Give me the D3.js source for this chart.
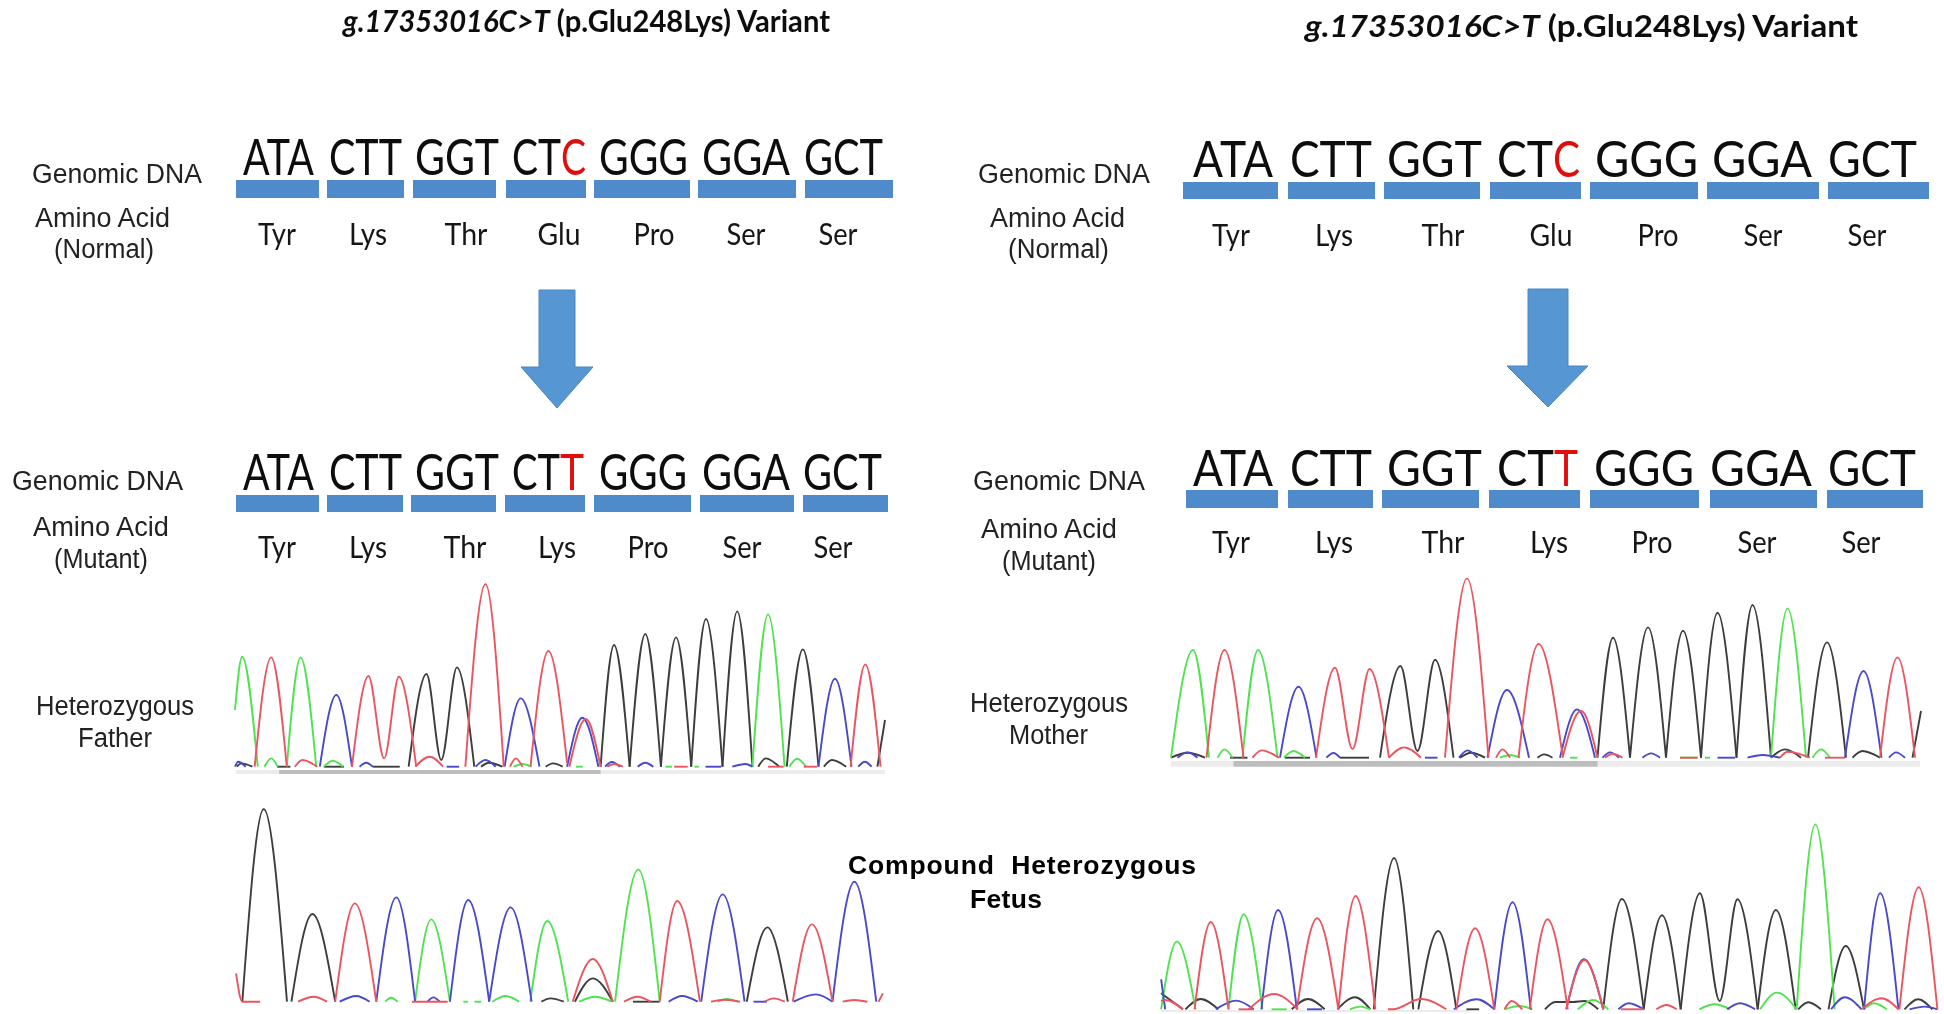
<!DOCTYPE html>
<html>

<head>
  <meta charset="utf-8">
  <script src="https://d3js.org/d3.v7.min.js"></script>
  <style>
    body { margin: 0; background: #fff; }
    svg { display: block; }
  </style>
</head>

<body>
  <div id="my_dataviz"></div>
  <script>
    // sequence text
    var codonsNormal = ["ATA", "CTT", "GGT", "CTC", "GGG", "GGA", "GCT"];
    var codonsMutant = ["ATA", "CTT", "GGT", "CTT", "GGG", "GGA", "GCT"];
    var aminoNormal = ["Tyr", "Lys", "Thr", "Glu", "Pro", "Ser", "Ser"];
    var aminoMutant = ["Tyr", "Lys", "Thr", "Lys", "Pro", "Ser", "Ser"];
    var changedCodon = 3;

    var fatherG = [[56,170,72,330,107,0],[122,0,137,25,152,0],[172,0,203,328,238,0],[255,0,275,18,298,0],[680,0,700,8,720,0],[820,0,835,0],[1020,0,1035,0],[1085,0,1095,0],[1215,0,1250,457,1287,0],[1298,0,1315,24,1335,0]];
    var fatherR = [[100,0,137,328,172,0],[190,0,207,20,240,0],[318,0,355,272,390,25,423,270,462,0],[460,0,492,30,522,0],[572,0,617,548,658,0],[672,0,685,25,700,0],[718,0,758,347,800,10],[805,0,842,143,875,0],[890,0,905,8,925,0],[1040,0,1070,0],[1250,0,1285,0],[1330,0,1360,0],[1435,0,1468,307,1502,0]];
    var fatherA = [[56,0,63,15,80,0],[246,0,283,215,318,0],[335,0,350,12,365,0],[530,0,558,0],[595,0,617,20,640,0],[660,0,696,205,738,0],[800,0,834,147,870,0],[885,0,900,14,918,0],[958,0,975,12,993,0],[1110,0,1145,0],[1170,0,1200,8,1215,0],[1363,0,1400,264,1437,0],[1452,0,1467,15,1482,0]];
    var fatherT = [[60,0,70,10,95,0],[150,0,180,0],[255,0,300,0],[365,0,425,0],[445,0,485,278,518,20,553,298,592,0],[607,0,625,12,655,0],[752,0,768,10,790,0],[875,0,905,365,940,0],[940,0,975,398,1010,0],[1010,0,1044,388,1078,0],[1078,0,1111,443,1148,0],[1148,0,1181,466,1215,0],[1228,0,1245,25,1275,0],[1292,0,1328,352,1363,0],[1375,0,1393,20,1425,0],[1495,0,1512,140]];

    var motherG = [[22,0,66,323,98,0],[115,0,129,25,145,0],[165,0,196,323,235,0],[248,0,267,20,290,0],[680,0,700,8,720,0],[820,0,835,0],[1040,0,1075,0],[1090,0,1100,0],[1222,0,1255,448,1292,0],[1305,0,1322,25,1340,0]];
    var motherR = [[93,0,129,323,167,0],[185,0,203,22,238,0],[312,0,350,270,385,26,419,266,458,0],[458,0,488,31,522,0],[570,0,614,538,657,0],[672,0,685,25,700,0],[717,0,757,341,805,8],[805,0,842,141,875,0],[890,0,905,12,925,0],[1040,0,1075,0],[1240,0,1255,18,1300,0],[1330,0,1370,0],[1440,0,1475,301,1510,0]];
    var motherA = [[35,0,55,16,75,0],[240,0,277,213,313,0],[333,0,347,14,360,0],[530,0,555,0],[598,0,615,22,635,0],[655,0,694,203,738,0],[800,0,834,145,870,0],[885,0,900,16,918,0],[965,0,982,13,1000,0],[1115,0,1150,0],[1175,0,1205,8,1240,0],[1370,0,1407,260,1443,0],[1458,0,1472,16,1490,0]];
    var motherT = [[22,0,55,15,90,0],[140,0,175,0],[250,0,300,0],[360,0,418,0],[440,0,481,275,515,20,550,294,587,0],[600,0,622,15,650,0],[755,0,768,10,785,0],[875,0,906,360,940,0],[940,0,976,391,1012,0],[1012,0,1046,381,1082,0],[1082,0,1115,435,1153,0],[1153,0,1185,458,1222,0],[1222,0,1250,25,1282,0],[1296,0,1334,346,1372,0],[1385,0,1405,20,1440,0],[1505,0,1522,140]];

    var fetusLeftG = [[370,0,383,12,398,0],[437,0,473,247,515,0],[545,0,555,0],[570,0,585,0],[610,0,640,17,670,0],[695,0,733,242,780,0],[805,0,840,15,878,0],[885,0,937,397,985,0],[1115,0,1135,8,1160,0]];
    var fetusLeftR = [[36,85,50,0,90,0],[175,0,210,15,240,0],[258,0,302,295,350,0],[430,0,510,0],[790,0,835,128,880,0],[905,0,935,15,965,0],[985,0,1024,302,1075,0],[1100,0,1130,6,1165,0],[1220,0,1240,10,1265,0],[1283,0,1326,232,1372,0],[1395,0,1420,5,1450,0],[1475,0,1485,25]];
    var fetusLeftA = [[268,0,305,17,335,0],[350,0,395,313,437,0],[465,0,478,13,492,0],[515,0,556,305,603,0],[603,0,651,283,698,0],[1005,0,1035,17,1070,0],[1078,0,1126,322,1175,0],[1195,0,1225,0],[1285,0,1335,22,1372,0],[1372,0,1421,360,1470,0]];
    var fetusLeftT = [[50,0,98,578,150,0],[160,0,207,263,258,0],[720,0,740,10,770,0],[795,0,835,70,880,0],[925,0,985,0],[1180,0,1226,223,1272,0]];

    var fetusRightG = [[22,0,53,203,90,0],[155,0,185,285,222,0],[240,0,270,0],[395,0,415,8,435,0],[700,0,730,10,755,0],[845,0,875,28,905,0],[1085,0,1115,15,1145,0],[1205,0,1238,50,1277,0],[1277,0,1314,555,1352,0],[1410,0,1430,18,1455,0]];
    var fetusRightR = [[22,25,30,28,65,0],[88,0,120,262,155,0],[175,0,205,0],[195,0,245,46,292,0],[290,0,330,273,372,0],[372,0,406,340,445,0],[470,0,480,0,535,31,585,0],[605,0,642,243,680,0],[700,0,714,25,735,0],[750,0,785,270,825,0],[822,0,858,148,895,0],[930,0,975,0],[1000,0,1020,13,1040,0],[1405,0,1445,33,1478,0],[1480,0,1518,366,1555,0]];
    var fetusRightA = [[22,90,30,0],[130,0,170,26,205,0],[220,0,253,298,290,0],[310,0,340,0],[600,0,645,30,680,0],[680,0,716,321,752,0],[822,0,857,150,895,0],[925,0,945,18,975,0],[1140,0,1165,18,1195,0],[1345,0,1372,36,1405,0],[1410,0,1442,348,1478,0],[1500,0,1530,8,1555,0]];
    var fetusRightT = [[22,48,65,0],[70,0,100,31,135,0],[280,0,312,31,345,0],[370,0,405,36,435,0],[442,0,482,454,520,0],[530,0,569,235,605,0],[625,0,650,0],[780,0,800,22,835,22,858,25,885,0],[895,0,932,331,975,0],[975,0,1011,282,1048,0],[1048,0,1086,348,1125,25,1160,330,1200,0],[1200,0,1236,298,1275,0],[1280,0,1300,21,1325,0],[1340,0,1374,190,1410,0],[1490,0,1517,30,1545,0]];

    var channelColors = { T: "#3d3d3d", G: "#4fe34f", A: "#4848cc", R: "#ea5560" };
    var aminoWidths = { Tyr: 38, Lys: 38, Thr: 43, Glu: 43, Pro: 41, Ser: 39 };

    // page layout of the four traces
    var panels = [
      { G: fatherG, R: fatherR, A: fatherA, T: fatherT, x: [210, 910], y: [766.7, 570], top: 590, light: [58, 1512, 600, 612], dark: [155, 875] },
      { G: motherG, R: motherR, A: motherA, T: motherT, x: [1160, 1944], y: [757.7, 565], top: 578, light: [22, 1520, 588, 605], dark: [147, 875] },
      { G: fetusLeftG, R: fetusLeftR, A: fetusLeftA, T: fetusLeftT, x: [220, 920], y: [1001.7, 790], top: 635 },
      { G: fetusRightG, R: fetusRightR, A: fetusRightA, T: fetusRightT, x: [1150, 1944], y: [1009.3, 800], top: 628, light: [22, 630, 630, 636] }
    ];

    // page layout of the codon rows; split is where the red base starts
    var rows = [
      { codons: codonsNormal, amino: aminoNormal, base: 175, barY: [180, 198], aaY: 245, split: 561,
        text: [[243, 314], [329, 402], [415, 499], [512, 586], [599, 688], [702, 790], [804, 883]],
        bars: [[236, 319], [327, 404], [413, 496], [506, 586], [594, 690], [698, 796], [805, 893]],
        aaX: [277, 368, 466, 559, 654, 746, 838] },
      { codons: codonsNormal, amino: aminoNormal, base: 177, barY: [182, 199], aaY: 246, split: 1553,
        text: [[1193, 1273], [1290, 1372], [1387, 1482], [1497, 1580], [1595, 1698], [1712, 1812], [1828, 1917]],
        bars: [[1183, 1278], [1288, 1375], [1384, 1480], [1490, 1581], [1590, 1698], [1707, 1819], [1828, 1929]],
        aaX: [1231, 1334, 1443, 1551, 1658, 1763, 1867] },
      { codons: codonsMutant, amino: aminoMutant, base: 490, barY: [495, 512], aaY: 558, split: 560,
        text: [[243, 314], [329, 402], [415, 499], [512, 584], [599, 687], [702, 790], [803, 882]],
        bars: [[236, 319], [327, 403], [411, 496], [505, 585], [594, 691], [700, 794], [803, 888]],
        aaX: [277, 368, 465, 557, 648, 742, 833] },
      { codons: codonsMutant, amino: aminoMutant, base: 486, barY: [490, 508], aaY: 553, split: 1554,
        text: [[1193, 1273], [1290, 1372], [1387, 1482], [1497, 1578], [1594, 1694], [1710, 1812], [1828, 1916]],
        bars: [[1186, 1278], [1288, 1373], [1382, 1479], [1489, 1580], [1590, 1699], [1710, 1817], [1827, 1923]],
        aaX: [1231, 1334, 1443, 1549, 1652, 1757, 1861] }
    ];

    var sideLabels = [
      ["Genomic DNA", 32, 202, 183], ["Amino Acid", 35, 170, 227], ["(Normal)", 54, 154, 258],
      ["Genomic DNA", 978, 1150, 183], ["Amino Acid", 990, 1125, 227], ["(Normal)", 1008, 1109, 258],
      ["Genomic DNA", 12, 183, 490], ["Amino Acid", 33, 169, 536], ["(Mutant)", 54, 148, 568],
      ["Genomic DNA", 973, 1145, 490], ["Amino Acid", 981, 1117, 538], ["(Mutant)", 1002, 1096, 570],
      ["Heterozygous", 36, 194, 715], ["Father", 78, 152, 747],
      ["Heterozygous", 970, 1128, 712], ["Mother", 1009, 1088, 744]
    ];

    var titles = [[343, 830, 32], [1305, 1858, 37]];
    var arrows = [[539, 575, 521, 593, 557, 290, 367, 408], [1528, 1568, 1507, 1588, 1548, 289, 366, 407]];

    var svg = d3.select("#my_dataviz")
      .append("svg")
      .attr("width", 1944)
      .attr("height", 1014);

    var soft = svg.append("defs").append("filter").attr("id", "soft")
      .attr("x", "-5%").attr("y", "-5%").attr("width", "110%").attr("height", "110%");
    soft.append("feGaussianBlur").attr("stdDeviation", 0.6);

    var chart = svg.append("g").attr("filter", "url(#soft)");

    // Titles
    titles.forEach(function (t) {
      var title = chart.append("text")
        .attr("x", t[0]).attr("y", t[2])
        .attr("textLength", t[1] - t[0]).attr("lengthAdjust", "spacingAndGlyphs")
        .style("font", "700 31px Lato").style("fill", "#111");
      title.append("tspan").style("font-style", "italic").text("g.17353016C>T");
      title.append("tspan").text(" (p.Glu248Lys) Variant");
    });

    // one stretch of codon text squeezed between two page positions
    function fitted(x0, x1, y, txt, color) {
      var t = chart.append("text")
        .style("font", "400 50px Lato")
        .style("fill", color)
        .text(txt);
      var natural = t.node().getComputedTextLength();
      t.attr("transform", "translate(" + x0 + "," + y + ")scale(" + (x1 - x0) / natural + ",1)");
    }

    // Codon rows
    rows.forEach(function (row) {
      chart.append("g").selectAll("rect")
        .data(row.bars)
        .enter()
        .append("rect")
        .attr("x", function (d) { return d[0]; })
        .attr("y", row.barY[0])
        .attr("width", function (d) { return d[1] - d[0]; })
        .attr("height", row.barY[1] - row.barY[0])
        .style("fill", "#4f8bcb");

      row.codons.forEach(function (codon, i) {
        var span = row.text[i];
        if (i === changedCodon) {
          fitted(span[0], row.split, row.base, codon.slice(0, 2), "#0a0a0a");
          fitted(row.split, span[1], row.base, codon.slice(2), "#e01010");
        } else {
          fitted(span[0], span[1], row.base, codon, "#0a0a0a");
        }
      });

      chart.append("g").selectAll("text")
        .data(row.amino)
        .enter()
        .append("text")
        .attr("x", function (d, i) { return row.aaX[i]; })
        .attr("y", row.aaY)
        .attr("text-anchor", "middle")
        .attr("textLength", function (d) { return aminoWidths[d]; })
        .attr("lengthAdjust", "spacingAndGlyphs")
        .style("font", "400 31px Lato")
        .style("fill", "#151515")
        .text(function (d) { return d; });
    });

    // Arrows
    chart.append("g").selectAll("polygon")
      .data(arrows)
      .enter()
      .append("polygon")
      .attr("points", function (a) {
        return [[a[0], a[5]], [a[1], a[5]], [a[1], a[6]], [a[3], a[6]], [a[4], a[7]], [a[2], a[6]], [a[0], a[6]]].join(" ");
      })
      .style("fill", "#5796d3")
      .style("stroke", "#4a86c0")
      .style("stroke-width", 1);

    // Side labels
    chart.append("g").selectAll("text")
      .data(sideLabels)
      .enter()
      .append("text")
      .attr("x", function (d) { return d[1]; })
      .attr("y", function (d) { return d[3]; })
      .attr("textLength", function (d) { return d[2] - d[1]; })
      .attr("lengthAdjust", "spacingAndGlyphs")
      .style("font", "400 27px 'Liberation Sans'")
      .style("fill", "#222")
      .text(function (d) { return d[0]; });

    chart.append("text")
      .attr("x", 848).attr("y", 874)
      .attr("textLength", 348).attr("lengthAdjust", "spacing")
      .style("font", "700 26.5px 'Liberation Sans'")
      .style("white-space", "pre")
      .style("fill", "#000")
      .text("Compound  Heterozygous");
    chart.append("text")
      .attr("x", 970).attr("y", 908)
      .attr("textLength", 72).attr("lengthAdjust", "spacing")
      .style("font", "700 26.5px 'Liberation Sans'")
      .style("fill", "#000")
      .text("Fetus");

    // Traces
    panels.forEach(function (p) {
      var x = d3.scaleLinear().domain([0, 1568]).range(p.x);
      var y = d3.scaleLinear().domain([0, p.top]).range(p.y);
      var line = d3.line()
        .x(function (d) { return x(d[0]); })
        .y(function (d) { return y(d[1]); })
        .curve(d3.curveMonotoneX);
      var g = chart.append("g");

      if (p.light) {
        g.append("rect")
          .attr("x", x(p.light[0])).attr("width", x(p.light[1]) - x(p.light[0]))
          .attr("y", p.y[1] + p.light[2] / 3).attr("height", (p.light[3] - p.light[2]) / 3)
          .style("fill", "#ececec");
      }
      if (p.dark) {
        g.append("rect")
          .attr("x", x(p.dark[0])).attr("width", x(p.dark[1]) - x(p.dark[0]))
          .attr("y", p.y[1] + p.light[2] / 3).attr("height", (p.light[3] - p.light[2]) / 3)
          .style("fill", "#bdbdbd");
      }

      ["T", "G", "A", "R"].forEach(function (channel) {
        g.append("g").selectAll("path")
          .data(p[channel])
          .enter()
          .append("path")
          .attr("d", function (run) {
            return line(d3.range(0, run.length, 2).map(function (i) { return [run[i], run[i + 1]]; }));
          })
          .style("fill", "none")
          .style("stroke", channelColors[channel])
          .style("stroke-width", 1.9);
      });
    });
  </script>
</body>

</html>
